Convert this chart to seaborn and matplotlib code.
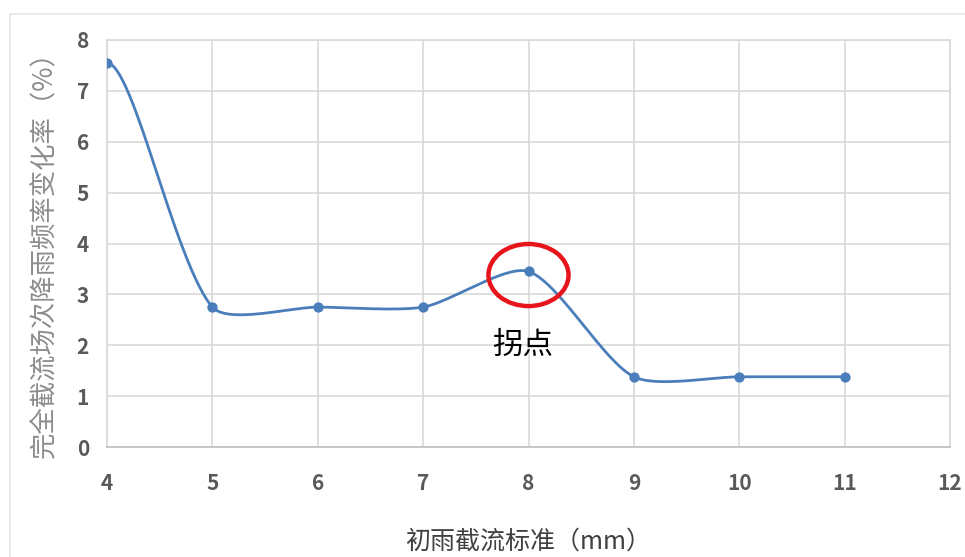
import numpy as np
import pandas as pd
import seaborn as sns
import matplotlib.pyplot as plt
from matplotlib.patches import Ellipse, Rectangle

# data
x_std = [4, 5, 6, 7, 8, 9, 10, 11]
rate = [7.55, 2.75, 2.75, 2.75, 3.45, 1.38, 1.38, 1.38]
x_ticks = [4, 5, 6, 7, 8, 9, 10, 11, 12]
y_ticks = [0, 1, 2, 3, 4, 5, 6, 7, 8]
inflect_x = 8
inflect_y = 3.45

# Excel-like smoothed line: Bezier segments, handles weighted by segment length
# (aspect = px per x unit / px per y unit so lengths are measured on screen)
def smooth(xs, ys, n=60, tension=0.25, aspect=105.4 / 50.9):
    p = np.column_stack([np.array(xs, float) * aspect, ys]).astype(float)
    k = len(p)
    d = np.linalg.norm(np.diff(p, axis=0), axis=1)
    h_out = np.zeros_like(p)
    h_in = np.zeros_like(p)
    for i in range(k):
        if i == 0:
            h_out[i] = [tension * (p[1, 0] - p[0, 0]), 0]
        elif i == k - 1:
            h_in[i] = [tension * (p[-1, 0] - p[-2, 0]), 0]
        else:
            v = p[i + 1] - p[i - 1]
            s = d[i - 1] + d[i]
            h_out[i] = v * tension * d[i] / s * 2 / 2
            h_in[i] = v * tension * d[i - 1] / s * 2 / 2
    out = []
    t = np.linspace(0, 1, n)[:, None]
    for i in range(k - 1):
        b0, b3 = p[i], p[i + 1]
        b1, b2 = b0 + h_out[i], b3 - h_in[i + 1]
        seg = ((1 - t) ** 3) * b0 + 3 * ((1 - t) ** 2) * t * b1 + 3 * (1 - t) * t ** 2 * b2 + t ** 3 * b3
        out.append(seg if i == 0 else seg[1:])
    out = np.vstack(out)
    return out[:, 0] / aspect, out[:, 1]

sx, sy = smooth(x_std, rate)
curve = pd.DataFrame({'x': sx, 'y': sy})
pts = pd.DataFrame({'x': x_std, 'y': rate})

sns.set_style('white')
plt.rcParams['font.family'] = ['Noto Sans CJK SC', 'DejaVu Sans']

fig = plt.figure(figsize=(9.65, 5.57), dpi=100)
fig.patches.append(Rectangle((10 / 965, -0.1), 1.1, 1 - 14 / 557 + 0.1, transform=fig.transFigure,
                             fill=False, edgecolor='#e6e6e6', linewidth=1.2))
ax = fig.add_axes([107 / 965, 1 - 447 / 557, (950 - 107) / 965, (447 - 40) / 557])

blue = '#4a7ebb'
sns.lineplot(data=curve, x='x', y='y', sort=False, estimator=None, color=blue, linewidth=2, ax=ax)
sns.scatterplot(data=pts, x='x', y='y', color=blue, s=55, edgecolor=blue, linewidth=0, zorder=3, ax=ax)

ax.set_xlim(4, 12)
ax.set_ylim(0, 8)
ax.set_xticks(x_ticks)
ax.set_yticks(y_ticks)
ax.grid(True, color='#d9d9d9', linewidth=1.2)
ax.set_axisbelow(True)
for s in ax.spines.values():
    s.set_color('#d9d9d9')
    s.set_linewidth(1.2)
ax.spines['bottom'].set_color('#bfbfbf')
ax.tick_params(axis='x', length=0, pad=19, labelsize=15, labelcolor='#595959')
ax.tick_params(axis='y', length=0, pad=13, labelsize=15, labelcolor='#595959')
for lab in ax.get_xticklabels() + ax.get_yticklabels():
    lab.set_fontweight('bold')

ax.set_xlabel('初雨截流标准（mm）', fontsize=18, color='#404040')
ax.set_ylabel('完全截流场次降雨频率变化率（%）', fontsize=19, color='#8c8c8c', fontweight='light')
ax.xaxis.set_label_coords(0.5, -0.2)
ax.yaxis.set_label_coords(-0.058, 0.49)

ax.add_patch(Ellipse((inflect_x, inflect_y - 0.07), 0.76, 1.22, fill=False, edgecolor='#e8141b',
                     linewidth=3.2, zorder=4))
ax.text(inflect_x - 0.06, inflect_y - 1.45, '拐点', fontsize=22, color='black', ha='center', va='center',
        fontweight='medium')

plt.savefig('out.png', dpi=100)
